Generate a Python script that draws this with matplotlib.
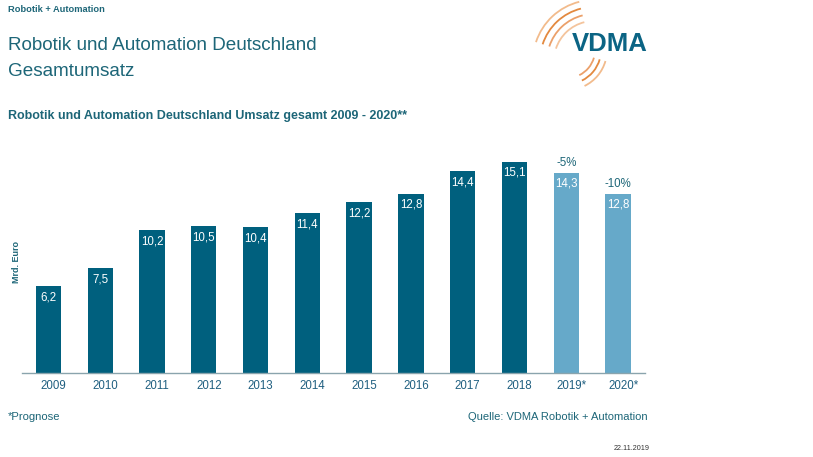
import matplotlib
matplotlib.use("Agg")
import matplotlib.pyplot as plt
from matplotlib.patches import Arc
from matplotlib.transforms import ScaledTranslation

plt.rcParams["font.family"] = ["Liberation Sans", "DejaVu Sans"]

years = ["2009", "2010", "2011", "2012", "2013", "2014", "2015", "2016",
         "2017", "2018", "2019*", "2020*"]
umsatz = [6.2, 7.5, 10.2, 10.5, 10.4, 11.4, 12.2, 12.8, 14.4, 15.1, 14.3, 12.8]
value_labels = ["6,2", "7,5", "10,2", "10,5", "10,4", "11,4", "12,2", "12,8",
                "14,4", "15,1", "14,3", "12,8"]
forecast = [False] * 10 + [True, True]
change_labels = {10: "-5%", 11: "-10%"}

DARK = "#00607e"
LIGHT = "#66a9c9"
TEXT = "#1d6678"
TICK = "#1f5f80"
W, H = 813, 457

fig = plt.figure(figsize=(W / 100, H / 100), dpi=100)

# chart area in pixels: left 22, right 645, baseline 373, top 135
left, right, base, top = 22, 645, 373, 135
ax = fig.add_axes([left / W, 1 - base / H, (right - left) / W, (base - top) / H])
x = list(range(len(years)))
colors = [LIGHT if f else DARK for f in forecast]
ax.bar(x, umsatz, width=0.49, color=colors, zorder=2)
ax.set_xlim(-0.51, 11.52)
ax.set_ylim(0, (base - top) / 14.0)
for side in ["top", "right", "left"]:
    ax.spines[side].set_visible(False)
ax.spines["bottom"].set_color("#8aa4ad")
ax.spines["bottom"].set_linewidth(1.0)
ax.set_yticks([])
ax.set_xticks(x)
ax.set_xticklabels(years, fontsize=8.3, color=TICK)
ax.tick_params(axis="x", length=0, pad=5)
shift = ScaledTranslation(5 / 100, 0, fig.dpi_scale_trans)
for lbl in ax.get_xticklabels():
    lbl.set_transform(lbl.get_transform() + shift)

for i, (v, s) in enumerate(zip(umsatz, value_labels)):
    ax.annotate(s, (i, v), xytext=(0, -11), textcoords="offset pixels",
                ha="center", va="center", color="white", fontsize=8.3)
for i, s in change_labels.items():
    ax.annotate(s, (i, umsatz[i]), xytext=(0, 10), textcoords="offset pixels",
                ha="center", va="center", color=TEXT, fontsize=8.3)

# overlay in pixel coordinates (y up)
ov = fig.add_axes([0, 0, 1, 1], zorder=-1)
ov.set_xlim(0, W)
ov.set_ylim(0, H)
ov.axis("off")


def py(y):
    return H - y


ov.text(8, py(9), "Robotik + Automation", fontsize=6.7, fontweight="bold",
        color=TEXT, va="center", ha="left")
ov.text(8, py(46), "Robotik und Automation Deutschland", fontsize=13.6,
        color=TEXT, va="center", ha="left")
ov.text(8, py(72), "Gesamtumsatz", fontsize=13.6, color=TEXT,
        va="center", ha="left")
ov.text(8, py(116), "Robotik und Automation Deutschland Umsatz gesamt 2009 - 2020**",
        fontsize=9.0, fontweight="bold", color=TEXT, va="center", ha="left")
ov.text(16, py(262), "Mrd. Euro", fontsize=6.5, fontweight="bold", color=TEXT,
        rotation=90, va="center", ha="center")
ov.text(8, py(417), "*Prognose", fontsize=8.1, color=TEXT, va="center", ha="left")
ov.text(648, py(417), "Quelle: VDMA Robotik + Automation", fontsize=8.05,
        color=TEXT, va="center", ha="right")
ov.text(650, py(448), "22.11.2019", fontsize=5.2, color="#333333",
        va="center", ha="right")

# VDMA logo
ov.text(610, py(44), "VDMA", fontsize=18.5, fontweight="bold", color="#0b6484",
        va="center", ha="center")
arc_colors = ["#f4c49c", "#eba06a", "#e3893f", "#f2bb8c"]
for r, c in zip([40, 47, 54, 61], arc_colors):
    ov.add_patch(Arc((594, py(61)), 2 * r, 2 * r, theta1=104, theta2=162,
                     color=c, lw=1.3))
for r, c in zip([28, 34, 40], ["#eba06a", "#e3893f", "#f2bb8c"]):
    ov.add_patch(Arc((567, py(50)), 2 * r, 2 * r, theta1=-64, theta2=-16,
                     color=c, lw=1.3))

fig.savefig("out.png", dpi=100)
